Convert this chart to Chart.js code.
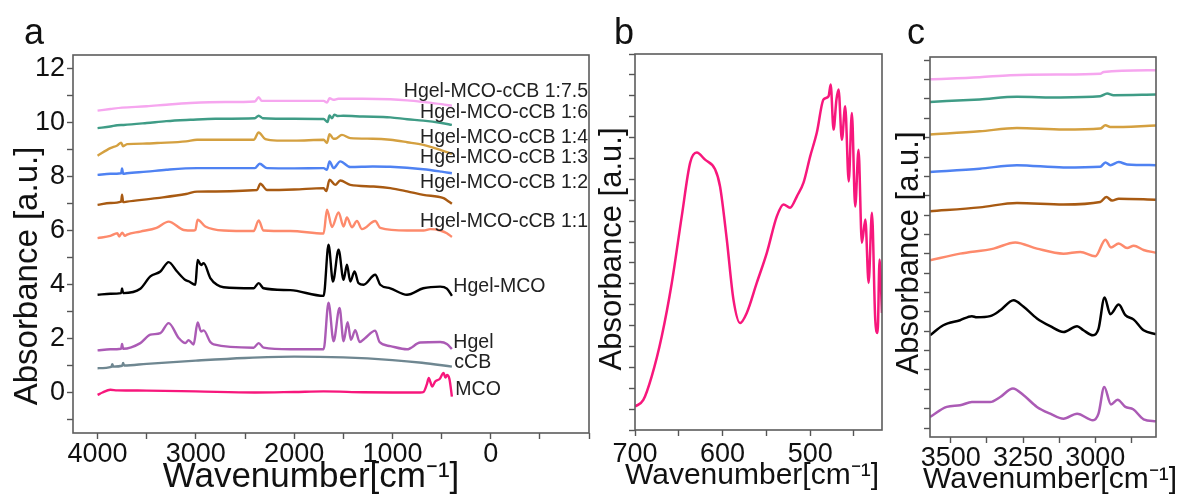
<!DOCTYPE html>
<html>
<head>
<meta charset="utf-8">
<script src="https://cdn.jsdelivr.net/npm/chart.js@4.4.1/dist/chart.umd.min.js"></script>
<style>
  html, body { margin: 0; padding: 0; background: #fff; }
  #wrap { position: relative; width: 1178px; height: 500px; }
  #wrap canvas { position: absolute; left: 0; top: 0; }
</style>
</head>
<body>
<div id="wrap">
  <canvas id="chartA" width="1178" height="500"></canvas>
  <canvas id="chartB" width="1178" height="500"></canvas>
  <canvas id="chartC" width="1178" height="500"></canvas>
</div>
<script>
// ---- panel a: full FTIR spectra, [wavenumber, absorbance] ----
const mcoCcb75 = [[4000,10.44],[3870,10.50],[3750,10.55],[3500,10.60],[3300,10.66],[3056,10.72],[2700,10.76],[2400,10.78],[2361,10.94],[2330,10.80],[2000,10.80],[1700,10.80],[1665,10.74],[1640,10.90],[1600,10.84],[1550,10.88],[1300,10.88],[1022,10.86],[850,10.82],[686,10.76],[500,10.68],[395,10.62]];
const mcoCcb6 = [[4000,9.79],[3870,9.85],[3800,9.90],[3735,9.91],[3500,9.98],[3300,10.05],[3056,10.10],[2800,10.14],[2400,10.16],[2361,10.25],[2320,10.16],[2000,10.14],[1700,10.13],[1660,10.02],[1640,10.26],[1615,10.16],[1590,10.29],[1560,10.24],[1500,10.25],[1300,10.22],[1022,10.19],[850,10.12],[686,10.07],[500,9.98],[395,9.91]];
const mcoCcb4 = [[4000,8.77],[3870,9.05],[3800,9.15],[3760,9.25],[3740,9.12],[3700,9.20],[3500,9.22],[3395,9.24],[3100,9.30],[2988,9.36],[2412,9.36],[2361,9.63],[2293,9.38],[2174,9.33],[2000,9.33],[1700,9.36],[1666,9.24],[1640,9.57],[1600,9.40],[1582,9.40],[1514,9.54],[1429,9.42],[1200,9.40],[1022,9.36],[850,9.27],[686,9.17],[500,8.97],[395,8.84]];
const mcoCcb3 = [[4000,8.06],[3870,8.10],[3760,8.12],[3751,8.30],[3740,8.10],[3700,8.12],[3500,8.18],[3300,8.25],[2988,8.31],[2400,8.31],[2351,8.47],[2276,8.31],[2000,8.30],[1700,8.31],[1666,8.25],[1640,8.56],[1599,8.31],[1531,8.56],[1429,8.35],[1200,8.37],[1022,8.36],[686,8.27],[500,8.18],[395,8.12]];
const mcoCcb2 = [[4000,6.95],[3870,7.02],[3760,7.07],[3751,7.33],[3740,7.05],[3700,7.07],[3395,7.20],[3100,7.35],[2988,7.44],[2378,7.50],[2344,7.73],[2276,7.50],[2000,7.52],[1700,7.57],[1673,7.46],[1640,7.88],[1582,7.69],[1531,7.85],[1429,7.69],[1192,7.63],[1022,7.57],[850,7.45],[686,7.32],[480,7.20],[446,7.12],[395,6.99]];
const mcoCcb1 = [[4000,5.72],[3870,5.80],[3800,5.90],[3780,5.78],[3750,5.92],[3720,5.80],[3700,5.85],[3565,5.96],[3400,6.10],[3277,6.33],[3124,6.02],[3023,6.00],[3005,6.02],[2982,6.40],[2904,6.15],[2718,6.00],[2412,5.98],[2361,6.37],[2311,6.00],[2039,5.98],[1700,5.89],[1666,6.77],[1615,6.13],[1548,6.67],[1497,6.15],[1463,6.48],[1412,6.12],[1361,6.35],[1310,6.05],[1175,6.35],[1124,6.10],[850,6.00],[683,6.00],[615,6.05],[514,6.00],[446,5.90],[395,5.76]];
const hgelMco = [[4000,3.62],[3870,3.66],[3760,3.68],[3751,3.85],[3740,3.68],[3565,3.84],[3463,4.30],[3361,4.48],[3277,4.83],[3191,4.48],[3107,4.17],[3074,4.12],[3005,3.99],[2982,4.91],[2947,4.72],[2921,4.79],[2853,4.24],[2785,3.99],[2718,3.90],[2412,3.86],[2361,4.05],[2311,3.86],[2039,3.79],[1700,3.58],[1650,5.47],[1605,4.11],[1548,5.29],[1497,4.17],[1463,4.73],[1429,4.11],[1385,4.48],[1345,4.05],[1294,3.99],[1175,4.36],[1124,3.99],[1022,3.86],[852,3.62],[686,3.86],[514,3.92],[446,3.85],[395,3.58]];
const hgel = [[4000,1.56],[3870,1.60],[3760,1.62],[3751,1.80],[3740,1.62],[3565,1.83],[3463,2.14],[3361,2.20],[3277,2.57],[3175,2.02],[3107,1.83],[3074,1.94],[3023,1.78],[2982,2.59],[2947,2.26],[2921,2.30],[2853,1.87],[2819,1.78],[2412,1.66],[2361,1.83],[2311,1.66],[2039,1.60],[1700,1.60],[1650,3.33],[1599,1.90],[1538,3.13],[1497,1.90],[1456,2.60],[1422,1.95],[1378,2.31],[1334,1.87],[1276,2.02],[1175,2.29],[1131,1.87],[1022,1.72],[852,1.60],[717,1.85],[514,1.87],[446,1.80],[395,1.61]];
const ccb = [[4000,0.90],[3860,0.95],[3850,1.05],[3840,0.96],[3750,0.99],[3740,1.09],[3730,1.00],[3500,1.06],[3000,1.18],[2500,1.28],[2000,1.33],[1500,1.30],[1000,1.20],[700,1.10],[395,0.96]];
const mco = [[4000,-0.09],[3950,0.00],[3870,0.10],[3800,0.08],[3500,0.07],[3000,0.04],[2400,0.00],[2000,0.02],[1700,0.04],[1300,0.01],[1000,0.00],[717,0.00],[683,0.02],[650,0.30],[630,0.54],[615,0.40],[595,0.22],[565,0.41],[520,0.50],[480,0.72],[460,0.55],[445,0.65],[420,0.50],[395,-0.15]];

// ---- panel b: MCO low wavenumber region ----
const mcoZoom = [[700,0.56],[690.5,0.72],[681,1.28],[669.5,2.24],[658,3.52],[646.6,5.12],[637,6.40],[629.5,6.64],[620,6.47],[608.6,6.24],[602.9,5.83],[595.2,4.56],[587.6,3.12],[580,2.56],[572.4,2.80],[561,3.52],[549.5,4.24],[538,5.12],[530.5,5.40],[523,5.32],[515,5.60],[507.6,5.92],[500,6.55],[492.4,7.12],[484.8,7.91],[479,7.99],[476.6,8.27],[473.3,7.19],[470,7.91],[467.6,8.15],[463.8,6.95],[460,7.75],[456,5.95],[452.4,7.59],[448.6,5.35],[444.8,6.71],[441,4.48],[437,5.04],[433.3,3.52],[429.5,5.20],[425.7,2.64],[423,2.32],[420.8,4.08],[418,2.80]];

// ---- panel c: 3600-2790 cm-1 region ----
const c75 = [[3572,18.02],[3400,18.12],[3295,18.23],[3121,18.26],[2983,18.30],[2971,18.40],[2790,18.49]];
const c6 = [[3572,16.85],[3400,16.98],[3271,17.11],[3121,17.08],[2983,17.14],[2959,17.28],[2937,17.20],[2790,17.23]];
const c4 = [[3572,15.16],[3400,15.33],[3271,15.50],[3110,15.42],[2983,15.47],[2965,15.64],[2948,15.55],[2790,15.63]];
const c3 = [[3572,13.23],[3400,13.40],[3271,13.58],[3110,13.46],[2983,13.50],[2965,13.72],[2948,13.58],[2919,13.74],[2890,13.62],[2790,13.58]];
const c2 = [[3572,11.20],[3400,11.40],[3271,11.63],[3110,11.55],[2983,11.68],[2962,11.94],[2942,11.75],[2919,11.85],[2790,11.80]];
const c1 = [[3572,8.67],[3468,9.01],[3352,9.27],[3277,9.59],[3202,9.27],[3110,9.01],[3052,9.10],[3000,8.87],[2965,9.73],[2946,9.33],[2919,9.53],[2890,9.30],[2867,9.42],[2833,9.20],[2790,9.06]];
const cHgelMco = [[3572,4.79],[3526,5.31],[3468,5.57],[3427,5.78],[3410,5.72],[3364,5.78],[3329,6.08],[3283,6.60],[3248,6.26],[3202,5.66],[3156,5.26],[3110,4.96],[3063,5.26],[3041,5.05],[3008,4.79],[2989,5.12],[2968,6.74],[2948,5.88],[2919,6.38],[2896,5.83],[2867,5.60],[2833,5.05],[2790,4.84]];
const cHgel = [[3572,0.57],[3514,1.09],[3468,1.17],[3427,1.34],[3364,1.34],[3329,1.60],[3285,2.04],[3248,1.69],[3202,1.09],[3156,0.74],[3110,0.48],[3063,0.74],[3008,0.40],[2989,0.74],[2969,2.12],[2946,1.22],[2923,1.46],[2896,1.09],[2869,0.97],[2833,0.45],[2790,0.35]];

// ---- ticks ----
const aXTicks = [4000, 3500, 3000, 2500, 2000, 1500, 1000, 500, 0, -500, -1000];
const aXLabels = [4000, 3000, 2000, 1000, 0];
const aYTicks = [-1, 0, 1, 2, 3, 4, 5, 6, 7, 8, 9, 10, 11, 12];
const aYLabels = [0, 2, 4, 6, 8, 10, 12];
const bXTicks = [700, 650, 600, 550, 500, 450];
const bXLabels = [700, 600, 500];
const bYTicks = [0, 0.5, 1, 1.5, 2, 2.5, 3, 3.5, 4, 4.5, 5, 5.5, 6, 6.5, 7, 7.5, 8, 8.5, 9];
const cXTicks = [3500, 3375, 3250, 3125, 3000, 2875];
const cXLabels = [3500, 3250, 3000];
const cYTicks = [0, 1, 2, 3, 4, 5, 6, 7, 8, 9, 10, 11, 12, 13, 14, 15, 16, 17, 18, 19];

const seriesNames = ['Hgel-MCO-cCB 1:7.5', 'Hgel-MCO-cCB 1:6', 'Hgel-MCO-cCB 1:4', 'Hgel-MCO-cCB 1:3',
    'Hgel-MCO-cCB 1:2', 'Hgel-MCO-cCB 1:1', 'Hgel-MCO', 'Hgel', 'cCB', 'MCO'];
const seriesColors = ['#f6a6ef', '#3f9c86', '#d4a040', '#4f82f2', '#a85a12', '#fd8a6c', '#000000', '#ab5bb5', '#6f8791', '#f7177c'];

const FONT = "'Liberation Sans', Arial, sans-serif";
Chart.defaults.font.family = FONT;
Chart.defaults.color = '#111';

const framePlugin = {
    id: 'frame',
    afterDraw(chart) {
        const {ctx, chartArea: a} = chart;
        ctx.save();
        ctx.strokeStyle = '#5c5c5c';
        ctx.lineWidth = 1.6;
        ctx.strokeRect(a.left, a.top, a.right - a.left, a.bottom - a.top);
        ctx.restore();
    }
};

const panelTextPlugin = {
    id: 'panelText',
    afterDraw(chart, args, opts) {
        const ctx = chart.ctx;
        (opts.items || []).forEach(it => {
            ctx.save();
            ctx.font = `${it.size}px ${FONT}`;
            ctx.fillStyle = '#111';
            ctx.textAlign = 'center';
            ctx.textBaseline = it.baseline || 'middle';
            ctx.translate(it.x, it.y);
            if (it.rotate) ctx.rotate(it.rotate);
            ctx.fillText(it.text, 0, 0);
            ctx.restore();
        });
    }
};

// names next to the curves, placed in data units
const curveLabelPlugin = {
    id: 'curveLabels',
    afterDatasetsDraw(chart, args, opts) {
        if (!opts.items) return;
        const {ctx, scales: {x, y}} = chart;
        ctx.save();
        ctx.font = `${opts.size}px ${FONT}`;
        ctx.fillStyle = '#222';
        ctx.textBaseline = 'middle';
        opts.items.forEach(it => {
            ctx.textAlign = it.align;
            ctx.fillText(it.text, x.getPixelForValue(it.x), y.getPixelForValue(it.y));
        });
        ctx.restore();
    }
};

Chart.register(framePlugin, panelTextPlugin, curveLabelPlugin);

function toXY(pairs) {
    return pairs.map(p => ({x: p[0], y: p[1]}));
}

function line(pairs, color, width) {
    return {
        data: toXY(pairs),
        borderColor: color,
        borderWidth: width,
        pointRadius: 0,
        cubicInterpolationMode: 'monotone',
        fill: false
    };
}

function axis(min, max, reverse, tickValues, labelValues, fit, pad) {
    return {
        type: 'linear',
        min: min,
        max: max,
        reverse: reverse,
        afterBuildTicks: (scale) => { scale.ticks = tickValues.map(v => ({value: v})); },
        afterFit: fit,
        grid: {drawOnChartArea: false, drawTicks: true, tickLength: 6, tickColor: '#555', tickWidth: 1.4},
        border: {display: false},
        ticks: {
            autoSkip: false,
            maxRotation: 0,
            padding: pad,
            font: {size: 27},
            color: '#111',
            callback: (v) => labelValues.includes(v) ? String(v) : ''
        }
    };
}

function makePanel(id, datasets, xAxis, yAxis, padding, texts, labels) {
    return new Chart(document.getElementById(id), {
        type: 'line',
        data: {datasets: datasets},
        options: {
            responsive: false,
            animation: false,
            events: [],
            layout: {padding: padding},
            scales: {x: xAxis, y: yAxis},
            plugins: {
                legend: {display: false},
                tooltip: {enabled: false},
                panelText: {items: texts},
                curveLabels: labels
            }
        }
    });
}

const panelASeries = [mcoCcb75, mcoCcb6, mcoCcb4, mcoCcb3, mcoCcb2, mcoCcb1, hgelMco, hgel, ccb, mco];
const panelCSeries = [c75, c6, c4, c3, c2, c1, cHgelMco, cHgel];

// a
makePanel('chartA',
    panelASeries.map((s, i) => line(s, seriesColors[i], 2.4)),
    axis(-1000, 4250, true, aXTicks, aXLabels, (s) => { s.height = 67; }, -1),
    axis(-1.5, 12.5, false, aYTicks, aYLabels, (s) => { s.width = 65; }, 2),
    {left: 8, top: 55, right: 589, bottom: 0},
    [
        {text: 'a', x: 34, y: 44, size: 36, baseline: 'alphabetic'},
        {text: 'Absorbance [a.u.]', x: 28, y: 276, size: 33, rotate: -Math.PI / 2},
        {text: 'Wavenumber[cm\u207B\u00B9]', x: 311, y: 477, size: 35}
    ],
    {
        size: 19.5,
        items: [
            {text: seriesNames[0], x: -990, y: 11.14, align: 'right'},
            {text: seriesNames[1], x: -990, y: 10.36, align: 'right'},
            {text: seriesNames[2], x: -990, y: 9.43, align: 'right'},
            {text: seriesNames[3], x: -990, y: 8.69, align: 'right'},
            {text: seriesNames[4], x: -990, y: 7.77, align: 'right'},
            {text: seriesNames[5], x: -990, y: 6.32, align: 'right'},
            {text: seriesNames[6], x: 380, y: 3.91, align: 'left'},
            {text: seriesNames[7], x: 380, y: 1.84, align: 'left'},
            {text: seriesNames[8], x: 370, y: 1.10, align: 'left'},
            {text: seriesNames[9], x: 360, y: 0.10, align: 'left'}
        ]
    }
);

// b
makePanel('chartB',
    [line(mcoZoom, seriesColors[9], 2.5)],
    axis(418, 700, true, bXTicks, bXLabels, (s) => { s.height = 70; }, 2),
    axis(0, 9, false, bYTicks, [], (s) => { s.width = 42; }, 2),
    {left: 593, top: 54, right: 296, bottom: 0},
    [
        {text: 'b', x: 624, y: 44, size: 36, baseline: 'alphabetic'},
        {text: 'Absorbance [a.u.]', x: 612, y: 249, size: 31, rotate: -Math.PI / 2},
        {text: 'Wavenumber[cm\u207B\u00B9]', x: 752, y: 476, size: 30}
    ],
    {}
);

// c
makePanel('chartC',
    panelCSeries.map((s, i) => line(s, seriesColors[i], 2.5)),
    axis(2790, 3572, true, cXTicks, cXLabels, (s) => { s.height = 63; }, -1),
    axis(-0.465, 19.17, false, cYTicks, [], (s) => { s.width = 39; }, 2),
    {left: 891, top: 57, right: 22, bottom: 0},
    [
        {text: 'c', x: 916, y: 44, size: 36, baseline: 'alphabetic'},
        {text: 'Absorbance [a.u.]', x: 909, y: 253, size: 31, rotate: -Math.PI / 2},
        {text: 'Wavenumber[cm\u207B\u00B9]', x: 1050, y: 480, size: 30}
    ],
    {}
);
</script>
</body>
</html>
